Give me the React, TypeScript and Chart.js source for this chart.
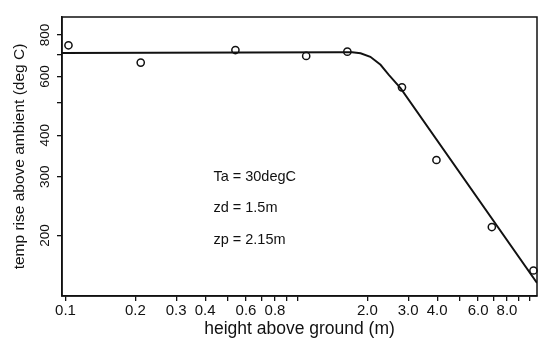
import { useEffect, useRef } from "react";
import { Chart, registerables } from "chart.js";

Chart.register(...registerables);

// Measured points: height above ground (m) vs temp rise (deg C)
const HEIGHTS = [0.103, 0.211, 0.54, 1.09, 1.64, 2.82, 3.97, 6.88, 10.4];
const TEMPS = [745, 661, 721, 692, 713, 557, 337, 212, 157];

// Fitted curve
const FIT_HEIGHTS = [0.0966, 1.5, 1.72, 1.87, 2.06, 2.28, 2.47, 2.78, 10.77];
const FIT_TEMPS = [706, 710, 710, 705, 688, 651, 608, 554, 144];

// Axis ticks and labels
const X_TICKS = [0.1, 0.2, 0.3, 0.4, 0.5, 0.6, 0.7, 0.8, 0.9, 1, 2, 3, 4, 5, 6, 7, 8, 9, 10];
const X_LABELED = [0.1, 0.2, 0.3, 0.4, 0.6, 0.8, 2, 3, 4, 6, 8];
const X_LABEL_TEXT = ["0.1", "0.2", "0.3", "0.4", "0.6", "0.8", "2.0", "3.0", "4.0", "6.0", "8.0"];
const Y_TICKS = [200, 300, 400, 500, 600, 700, 800];
const Y_LABELED = [200, 300, 400, 600, 800];

// Annotation text and its anchor in data units
const NOTES = ["Ta = 30degC", "zd = 1.5m", "zp = 2.15m"];
const NOTE_X = 0.434;
const NOTE_Y = [300, 242, 194];

const X_MIN = 0.0966;
const X_MAX = 10.77;
const Y_MIN = 131.6;
const Y_MAX = 906;

const FONT = "'Liberation Sans', Arial, Helvetica, sans-serif";
const INK = "#111";

export default function App() {
  const ref = useRef<HTMLCanvasElement | null>(null);

  useEffect(() => {
    const canvas = ref.current;
    if (!canvas) return;

    const overlay = {
      id: "overlay",
      afterDraw(chart: any) {
        const { ctx, chartArea, scales } = chart;
        const ys = scales.y;
        const xs = scales.x;
        ctx.save();
        // box
        ctx.strokeStyle = INK;
        ctx.lineWidth = 1.5;
        ctx.strokeRect(chartArea.left, chartArea.top, chartArea.right - chartArea.left, chartArea.bottom - chartArea.top);
        // y tick labels, rotated
        ctx.fillStyle = INK;
        ctx.font = `13.5px ${FONT}`;
        ctx.textAlign = "center";
        ctx.textBaseline = "middle";
        Y_LABELED.forEach((v) => {
          const py = ys.getPixelForValue(v);
          ctx.save();
          ctx.translate(45, py);
          ctx.rotate(-Math.PI / 2);
          ctx.fillText(String(v), 0, 0);
          ctx.restore();
        });
        // notes
        ctx.font = `14.5px ${FONT}`;
        ctx.textAlign = "left";
        NOTES.forEach((t, i) => {
          ctx.fillText(t, xs.getPixelForValue(NOTE_X), ys.getPixelForValue(NOTE_Y[i]));
        });
        ctx.restore();
      },
    };

    const chart = new Chart(canvas, {
      type: "scatter",
      data: {
        datasets: [
          {
            type: "line",
            data: FIT_HEIGHTS.map((x, i) => ({ x, y: FIT_TEMPS[i] })),
            borderColor: INK,
            borderWidth: 1.9,
            pointRadius: 0,
            tension: 0,
            fill: false,
          },
          {
            data: HEIGHTS.map((x, i) => ({ x, y: TEMPS[i] })),
            borderColor: INK,
            backgroundColor: "rgba(0,0,0,0)",
            borderWidth: 1.5,
            pointRadius: 3.6,
            pointStyle: "circle",
            clip: false,
          },
        ],
      },
      options: {
        responsive: false,
        animation: false,
        events: [],
        layout: { autoPadding: false, padding: { left: 0, right: 1, top: 17, bottom: 0 } },
        plugins: { legend: { display: false }, tooltip: { enabled: false } },
        scales: {
          x: {
            type: "logarithmic",
            min: X_MIN,
            max: X_MAX,
            afterBuildTicks: (s: any) => {
              s.ticks = X_TICKS.map((v) => ({ value: v }));
            },
            afterFit: (s: any) => {
              s.height = 44;
            },
            ticks: {
              autoSkip: false,
              maxRotation: 0,
              minRotation: 0,
              padding: 1,
              color: INK,
              font: { family: FONT, size: 15 },
              callback: (v: any) => {
                const i = X_LABELED.findIndex((l) => Math.abs(l - Number(v)) < 1e-9);
                return i >= 0 ? X_LABEL_TEXT[i] : "";
              },
            },
            grid: { display: true, drawOnChartArea: false, drawTicks: true, tickLength: 5, color: INK, lineWidth: 1.3 },
            border: { display: true, color: INK, width: 1.5 },
            title: {
              display: true,
              text: "height above ground (m)",
              color: INK,
              font: { family: FONT, size: 17.5 },
              padding: 0,
            },
          },
          y: {
            type: "logarithmic",
            min: Y_MIN,
            max: Y_MAX,
            afterBuildTicks: (s: any) => {
              s.ticks = Y_TICKS.map((v) => ({ value: v }));
            },
            afterFit: (s: any) => {
              s.width = 62;
            },
            ticks: { display: false },
            grid: { display: true, drawOnChartArea: false, drawTicks: true, tickLength: 5, color: INK, lineWidth: 1.3 },
            border: { display: true, color: INK, width: 1.5 },
            title: {
              display: true,
              text: "temp rise above ambient (deg C)",
              color: INK,
              font: { family: FONT, size: 15.5 },
              padding: 10,
            },
          },
        },
      },
      plugins: [overlay],
    } as any);

    return () => chart.destroy();
  }, []);

  return (
    <div style={{ position: "fixed", left: 0, top: 0, width: 538, height: 340, background: "#fff" }}>
      <canvas ref={ref} width={538} height={340} style={{ display: "block", width: 538, height: 340 }} />
    </div>
  );
}
